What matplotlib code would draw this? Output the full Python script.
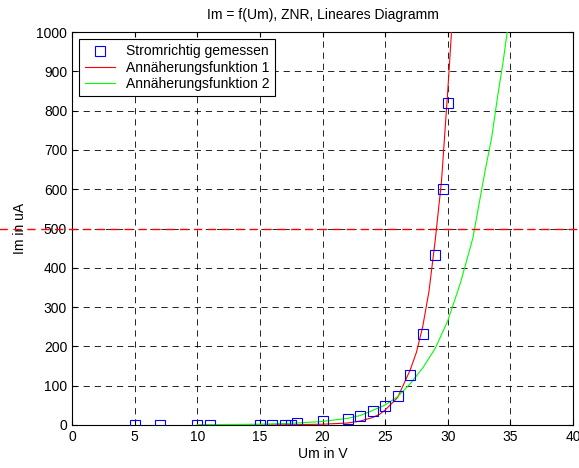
import numpy as np
import matplotlib
matplotlib.use("Agg")
import matplotlib.pyplot as plt

plt.rcParams['font.family'] = ['Liberation Sans', 'DejaVu Sans']
plt.rcParams['lines.scale_dashes'] = False

# measured values (Um in V, Im in uA)
um_mess = [5, 7, 10, 11, 15, 16, 17, 17.5, 18, 20, 22, 23, 24, 25, 26, 27, 28, 29, 29.6, 30]
im_mess = [0, 0, 0, 0, 0, 0, 0, 1, 4, 10, 16, 23, 36, 48, 75, 126, 231, 432, 600, 820]

# approximation 1
um_f1 = [10, 15, 18, 20, 22, 23, 24, 24.6, 25, 26, 26.5, 27, 27.5, 28, 28.5, 29, 29.5, 30, 30.3]
im_f1 = [0, 0.2, 1, 2, 5, 10, 19, 28, 38, 70, 105, 140, 185, 250, 340, 470, 620, 850, 1000]

# approximation 2
um_f2 = [10, 15, 18, 20, 22, 23, 24, 25, 26, 27, 28, 29, 30, 31, 32, 33, 33.5, 34, 34.4, 34.75]
im_f2 = [0.5, 2, 5, 9, 17, 24, 37, 51, 72, 105, 145, 195, 265, 360, 475, 650, 730, 840, 920, 1000]

grenze = 500

fig = plt.figure(figsize=(5.79, 4.68), dpi=100)
ax = fig.add_axes([72/579, 43/468, 501/579, 393/468])

ax.plot(um_mess, im_mess, 's', color='blue', markerfacecolor='none',
        markersize=7, markeredgewidth=0.8, label='Stromrichtig gemessen', zorder=4)
ax.plot(um_f1, im_f1, color='red', lw=0.8, label='Annäherungsfunktion 1', zorder=3)
ax.plot(um_f2, im_f2, color='#00ff00', lw=0.8, label='Annäherungsfunktion 2', zorder=3)

ax.axhline(grenze, xmin=-0.15, xmax=1.02, color='red', lw=1.0,
           dashes=(6, 4), clip_on=False, zorder=5)

ax.set_xlim(0, 40)
ax.set_ylim(0, 1000)
ax.set_xticks(np.arange(0, 41, 5))
ax.set_yticks(np.arange(0, 1001, 100))
ax.grid(True, color='black', lw=0.6, dashes=(4.5, 3.5))
ax.tick_params(direction='in', top=True, right=True, length=3.5, labelsize=10)
for s in ax.spines.values():
    s.set_linewidth(0.8)

ax.set_title('Im = f(Um), ZNR, Lineares Diagramm', fontsize=10, pad=9)
ax.set_xlabel('Um in V', fontsize=10, labelpad=2)
ax.set_ylabel('Im in uA', fontsize=10, labelpad=7)

leg = ax.legend(loc='upper left', fontsize=10, fancybox=False, framealpha=1,
                edgecolor='black', borderaxespad=0.5, handlelength=2.2,
                labelspacing=0.15, borderpad=0.4, handletextpad=0.8)
leg.get_frame().set_linewidth(0.8)

fig.savefig('out.png', dpi=100)
